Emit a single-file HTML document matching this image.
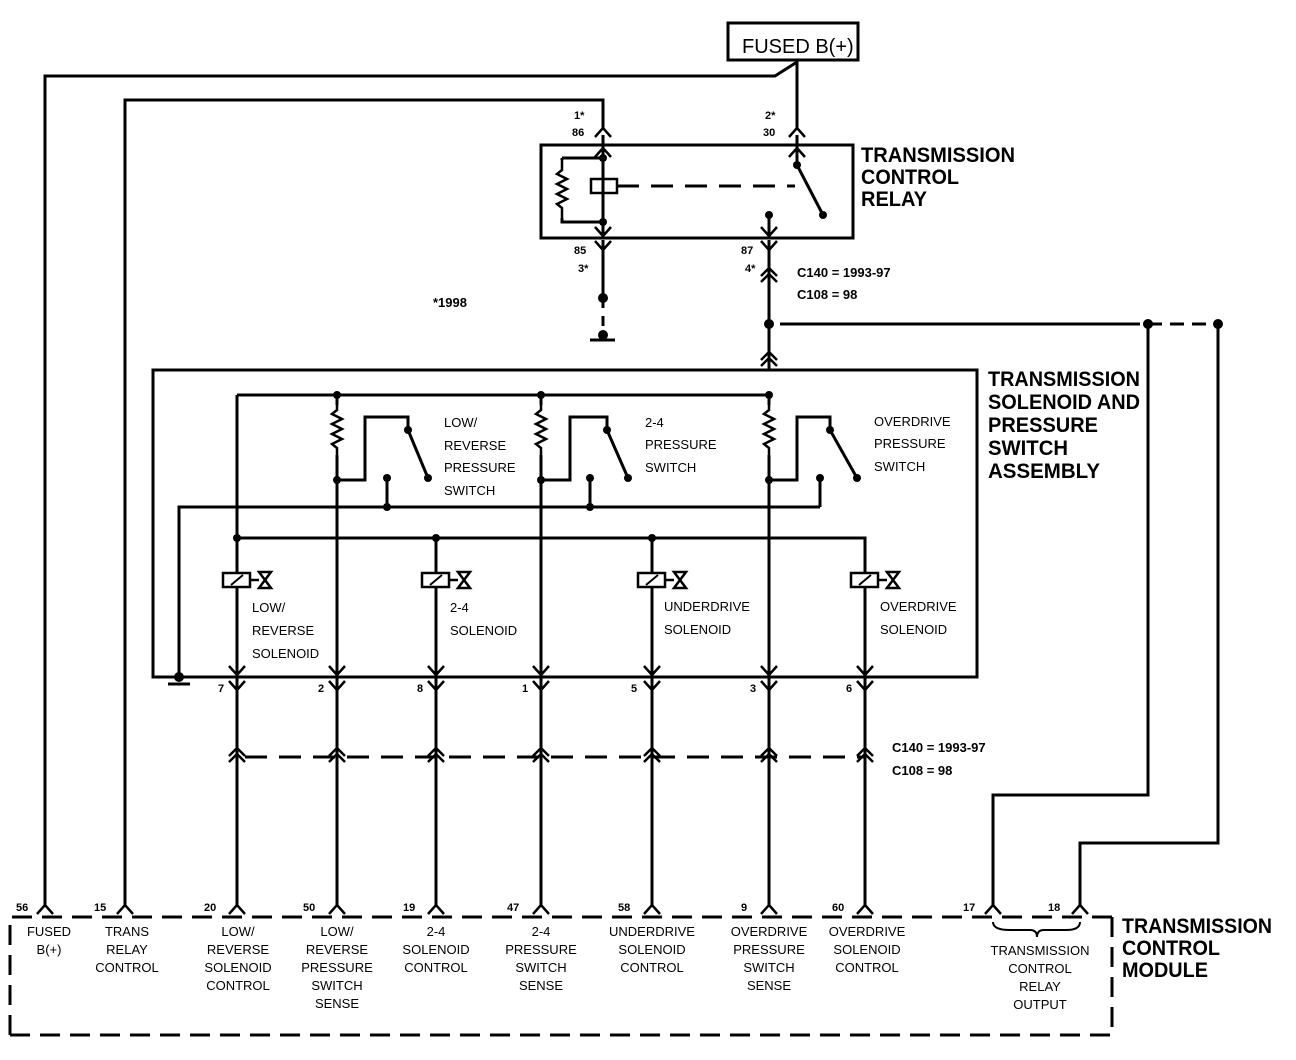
<!DOCTYPE html>
<html><head><meta charset="utf-8"><style>
html,body{margin:0;padding:0;background:#fff;}
svg{display:block;}
text{font-family:"Liberation Sans",sans-serif;fill:#000;}
.s{font-size:13px;}
.t{font-size:21px;font-weight:bold;}
.n{font-size:11px;font-weight:bold;}
</style></head><body>
<svg width="1296" height="1060" viewBox="0 0 1296 1060" xmlns="http://www.w3.org/2000/svg">
<defs>
<g id="up"><path d="M-8,9 L0,0 L8,9" fill="none" stroke="#000" stroke-width="2.5"/></g>
<g id="dn"><path d="M-8,-9 L0,0 L8,-9" fill="none" stroke="#000" stroke-width="2.5"/></g>
<g id="dbl"><path d="M-8,8 L0,0 L8,8 M-8,14 L0,6 L8,14" fill="none" stroke="#000" stroke-width="2.5"/></g>
<g id="sol"><rect x="-14" y="-7" width="27" height="14" fill="#fff" stroke="#000" stroke-width="2.5"/><path d="M-6,5 L6,-5" stroke="#000" stroke-width="2"/><path d="M13,0 L22,0 M22,-8 L34,-8 L22,8 L34,8 Z" fill="none" stroke="#000" stroke-width="2.5"/></g>
<g id="res"><path d="M0,0 L0,10 L-5,14 L5,19 L-5,24 L5,29 L-5,34 L5,39 L-5,44 L0,48 L0,58" fill="none" stroke="#000" stroke-width="2.5"/></g>
</defs>
<g stroke="#000" stroke-width="3" fill="none">
<rect x="728" y="23" width="130" height="37"/>
<path d="M797,60 L797,128"/>
<path d="M45,905 L45,76 L775,76 L797,62"/>
<path d="M125,905 L125,100 L603,100 L603,128"/>
<rect x="541" y="145" width="312" height="93"/>
<path d="M603,135 L603,236 M562,158 L603,158 M562,158 L562,222 L603,222"/>
<rect x="591" y="179" width="26" height="14" stroke-width="2.5"/>
<path d="M617,186 L795,186" stroke-dasharray="22,12"/>
<path d="M797,135 L797,165 L823,215"/>
<path d="M769,215 L769,238"/>
<path d="M603,240 L603,298"/>
<path d="M603,298 L603,335" stroke-dasharray="10,8"/>
<path d="M590,340 L615,340"/>
<path d="M769,240 L769,370"/>
<path d="M780,324 L1140,324"/>
<path d="M1148,324 L1218,324" stroke-dasharray="14,8"/>
<path d="M1148,324 L1148,795 L993,795 L993,905"/>
<path d="M1218,324 L1218,843 L1080,843 L1080,905"/>
<rect x="153" y="370" width="824" height="307"/>
<path d="M237,395 L769,395"/>
<path d="M237,395 L237,677 M337,395 L337,677 M541,395 L541,677 M769,395 L769,677"/>
<path d="M337,480 L365,480 L365,417 L408,417 L408,430 L428,478"/>
<path d="M541,480 L570,480 L570,417 L607,417 L607,430 L628,478"/>
<path d="M769,480 L797,480 L797,417 L830,417 L830,430 L857,478"/>
<path d="M387,478 L387,507 M590,478 L590,507 M820,478 L820,507"/>
<path d="M179,677 L179,507 L820,507"/>
<path d="M237,538 L865,538 L865,677 M436,538 L436,677 M652,538 L652,677"/>
<path d="M168,684 L190,684"/>
<path d="M237,677 L237,905 M337,677 L337,905 M436,677 L436,905 M541,677 L541,905 M652,677 L652,905 M769,677 L769,905 M865,677 L865,905"/>
<path d="M245,757 L865,757" stroke-dasharray="22,12"/>
<path d="M10,1035 L10,917 L1112,917 M10,1035 L1112,1035 M1112,917 L1112,1035" stroke-dasharray="20,10"/>
<path d="M993,922 Q993,930 1010,930 L1030,930 Q1037,930 1037,937 Q1037,930 1044,930 L1066,930 Q1080,930 1080,922" stroke-width="2"/>
</g>
<g fill="#000">
<circle cx="603" cy="158" r="4"/><circle cx="603" cy="222" r="4"/><circle cx="797" cy="165" r="4"/><circle cx="823" cy="215" r="4"/><circle cx="769" cy="215" r="4"/>
<circle cx="603" cy="298" r="5"/><circle cx="603" cy="335" r="5"/><circle cx="769" cy="324" r="5"/><circle cx="1148" cy="324" r="5"/><circle cx="1218" cy="324" r="5"/>
<circle cx="337" cy="395" r="4"/><circle cx="541" cy="395" r="4"/><circle cx="769" cy="395" r="4"/>
<circle cx="337" cy="480" r="4"/><circle cx="541" cy="480" r="4"/><circle cx="769" cy="480" r="4"/>
<circle cx="408" cy="430" r="4"/><circle cx="428" cy="478" r="4"/><circle cx="607" cy="430" r="4"/><circle cx="628" cy="478" r="4"/><circle cx="830" cy="430" r="4"/><circle cx="857" cy="478" r="4"/>
<circle cx="387" cy="478" r="4"/><circle cx="387" cy="507" r="4"/><circle cx="590" cy="478" r="4"/><circle cx="590" cy="507" r="4"/><circle cx="820" cy="478" r="4"/>
<circle cx="237" cy="538" r="4"/><circle cx="436" cy="538" r="4"/><circle cx="652" cy="538" r="4"/><circle cx="179" cy="677" r="5"/>
</g>
<rect x="330" y="405" width="14" height="50" fill="#fff"/><use href="#res" x="337" y="400"/>
<rect x="534" y="405" width="14" height="50" fill="#fff"/><use href="#res" x="541" y="400"/>
<rect x="762" y="405" width="14" height="50" fill="#fff"/><use href="#res" x="769" y="400"/>
<rect x="555" y="160" width="14" height="58" fill="#fff"/><use href="#res" x="562" y="160"/>
<use href="#sol" x="237" y="580"/><use href="#sol" x="436" y="580"/><use href="#sol" x="652" y="580"/><use href="#sol" x="865" y="580"/>
<use href="#up" x="603" y="128"/><use href="#up" x="797" y="128"/>
<use href="#up" x="603" y="148"/><use href="#up" x="797" y="148"/>
<use href="#dn" x="603" y="236"/><use href="#dn" x="769" y="236"/>
<use href="#dn" x="603" y="250"/><use href="#dn" x="769" y="250"/>
<use href="#dbl" x="769" y="268"/><use href="#dbl" x="769" y="352"/>
<g>
<use href="#dn" x="237" y="675"/><use href="#dn" x="337" y="675"/><use href="#dn" x="436" y="675"/><use href="#dn" x="541" y="675"/><use href="#dn" x="652" y="675"/><use href="#dn" x="769" y="675"/><use href="#dn" x="865" y="675"/>
<use href="#dn" x="237" y="690"/><use href="#dn" x="337" y="690"/><use href="#dn" x="436" y="690"/><use href="#dn" x="541" y="690"/><use href="#dn" x="652" y="690"/><use href="#dn" x="769" y="690"/><use href="#dn" x="865" y="690"/>
<use href="#dbl" x="237" y="748"/><use href="#dbl" x="337" y="748"/><use href="#dbl" x="436" y="748"/><use href="#dbl" x="541" y="748"/><use href="#dbl" x="652" y="748"/><use href="#dbl" x="769" y="748"/><use href="#dbl" x="865" y="748"/>
<use href="#up" x="45" y="905"/><use href="#up" x="125" y="905"/><use href="#up" x="237" y="905"/><use href="#up" x="337" y="905"/><use href="#up" x="436" y="905"/><use href="#up" x="541" y="905"/><use href="#up" x="652" y="905"/><use href="#up" x="769" y="905"/><use href="#up" x="865" y="905"/><use href="#up" x="993" y="905"/><use href="#up" x="1080" y="905"/>
</g>
<text x="742" y="53" font-size="20">FUSED B(+)</text>
<text class="t" x="861" y="162" textLength="154" lengthAdjust="spacingAndGlyphs">TRANSMISSION</text>
<text class="t" x="861" y="184" textLength="98" lengthAdjust="spacingAndGlyphs">CONTROL</text>
<text class="t" x="861" y="206" textLength="66" lengthAdjust="spacingAndGlyphs">RELAY</text>
<g class="n">
<text x="574" y="119">1*</text><text x="572" y="136">86</text>
<text x="765" y="119">2*</text><text x="763" y="136">30</text>
<text x="574" y="254">85</text><text x="578" y="272">3*</text>
<text x="741" y="254">87</text><text x="745" y="272">4*</text>
</g>
<text x="797" y="277" font-size="13" font-weight="bold">C140 = 1993-97</text>
<text x="797" y="299" font-size="13" font-weight="bold">C108 = 98</text>
<text x="433" y="307" font-size="13" font-weight="bold">*1998</text>
<text class="t" x="988" y="386" textLength="152" lengthAdjust="spacingAndGlyphs">TRANSMISSION</text>
<text class="t" x="988" y="409" textLength="152" lengthAdjust="spacingAndGlyphs">SOLENOID AND</text>
<text class="t" x="988" y="432" textLength="110" lengthAdjust="spacingAndGlyphs">PRESSURE</text>
<text class="t" x="988" y="455" textLength="80" lengthAdjust="spacingAndGlyphs">SWITCH</text>
<text class="t" x="988" y="478" textLength="112" lengthAdjust="spacingAndGlyphs">ASSEMBLY</text>
<g class="s">
<text x="444" y="427">LOW/</text><text x="444" y="450">REVERSE</text><text x="444" y="472">PRESSURE</text><text x="444" y="495">SWITCH</text>
<text x="645" y="427">2-4</text><text x="645" y="449">PRESSURE</text><text x="645" y="472">SWITCH</text>
<text x="874" y="426">OVERDRIVE</text><text x="874" y="448">PRESSURE</text><text x="874" y="471">SWITCH</text>
<text x="252" y="612">LOW/</text><text x="252" y="635">REVERSE</text><text x="252" y="658">SOLENOID</text>
<text x="450" y="612">2-4</text><text x="450" y="635">SOLENOID</text>
<text x="664" y="611">UNDERDRIVE</text><text x="664" y="634">SOLENOID</text>
<text x="880" y="611">OVERDRIVE</text><text x="880" y="634">SOLENOID</text>
</g>
<g class="n">
<text x="218" y="692">7</text><text x="318" y="692">2</text><text x="417" y="692">8</text><text x="522" y="692">1</text><text x="631" y="692">5</text><text x="750" y="692">3</text><text x="846" y="692">6</text>
</g>
<text x="892" y="752" font-size="13" font-weight="bold">C140 = 1993-97</text>
<text x="892" y="775" font-size="13" font-weight="bold">C108 = 98</text>
<g class="n">
<text x="16" y="911">56</text><text x="94" y="911">15</text><text x="204" y="911">20</text><text x="303" y="911">50</text><text x="403" y="911">19</text><text x="507" y="911">47</text><text x="618" y="911">58</text><text x="741" y="911">9</text><text x="832" y="911">60</text><text x="963" y="911">17</text><text x="1048" y="911">18</text>
</g>
<g class="s" text-anchor="middle">
<text x="49" y="936">FUSED</text><text x="49" y="954">B(+)</text>
<text x="127" y="936">TRANS</text><text x="127" y="954">RELAY</text><text x="127" y="972">CONTROL</text>
<text x="238" y="936">LOW/</text><text x="238" y="954">REVERSE</text><text x="238" y="972">SOLENOID</text><text x="238" y="990">CONTROL</text>
<text x="337" y="936">LOW/</text><text x="337" y="954">REVERSE</text><text x="337" y="972">PRESSURE</text><text x="337" y="990">SWITCH</text><text x="337" y="1008">SENSE</text>
<text x="436" y="936">2-4</text><text x="436" y="954">SOLENOID</text><text x="436" y="972">CONTROL</text>
<text x="541" y="936">2-4</text><text x="541" y="954">PRESSURE</text><text x="541" y="972">SWITCH</text><text x="541" y="990">SENSE</text>
<text x="652" y="936">UNDERDRIVE</text><text x="652" y="954">SOLENOID</text><text x="652" y="972">CONTROL</text>
<text x="769" y="936">OVERDRIVE</text><text x="769" y="954">PRESSURE</text><text x="769" y="972">SWITCH</text><text x="769" y="990">SENSE</text>
<text x="867" y="936">OVERDRIVE</text><text x="867" y="954">SOLENOID</text><text x="867" y="972">CONTROL</text>
<text x="1040" y="955">TRANSMISSION</text><text x="1040" y="973">CONTROL</text><text x="1040" y="991">RELAY</text><text x="1040" y="1009">OUTPUT</text>
</g>
<text class="t" x="1122" y="933" textLength="150" lengthAdjust="spacingAndGlyphs">TRANSMISSION</text>
<text class="t" x="1122" y="955" textLength="98" lengthAdjust="spacingAndGlyphs">CONTROL</text>
<text class="t" x="1122" y="977" textLength="86" lengthAdjust="spacingAndGlyphs">MODULE</text>
</svg>
</body></html>
